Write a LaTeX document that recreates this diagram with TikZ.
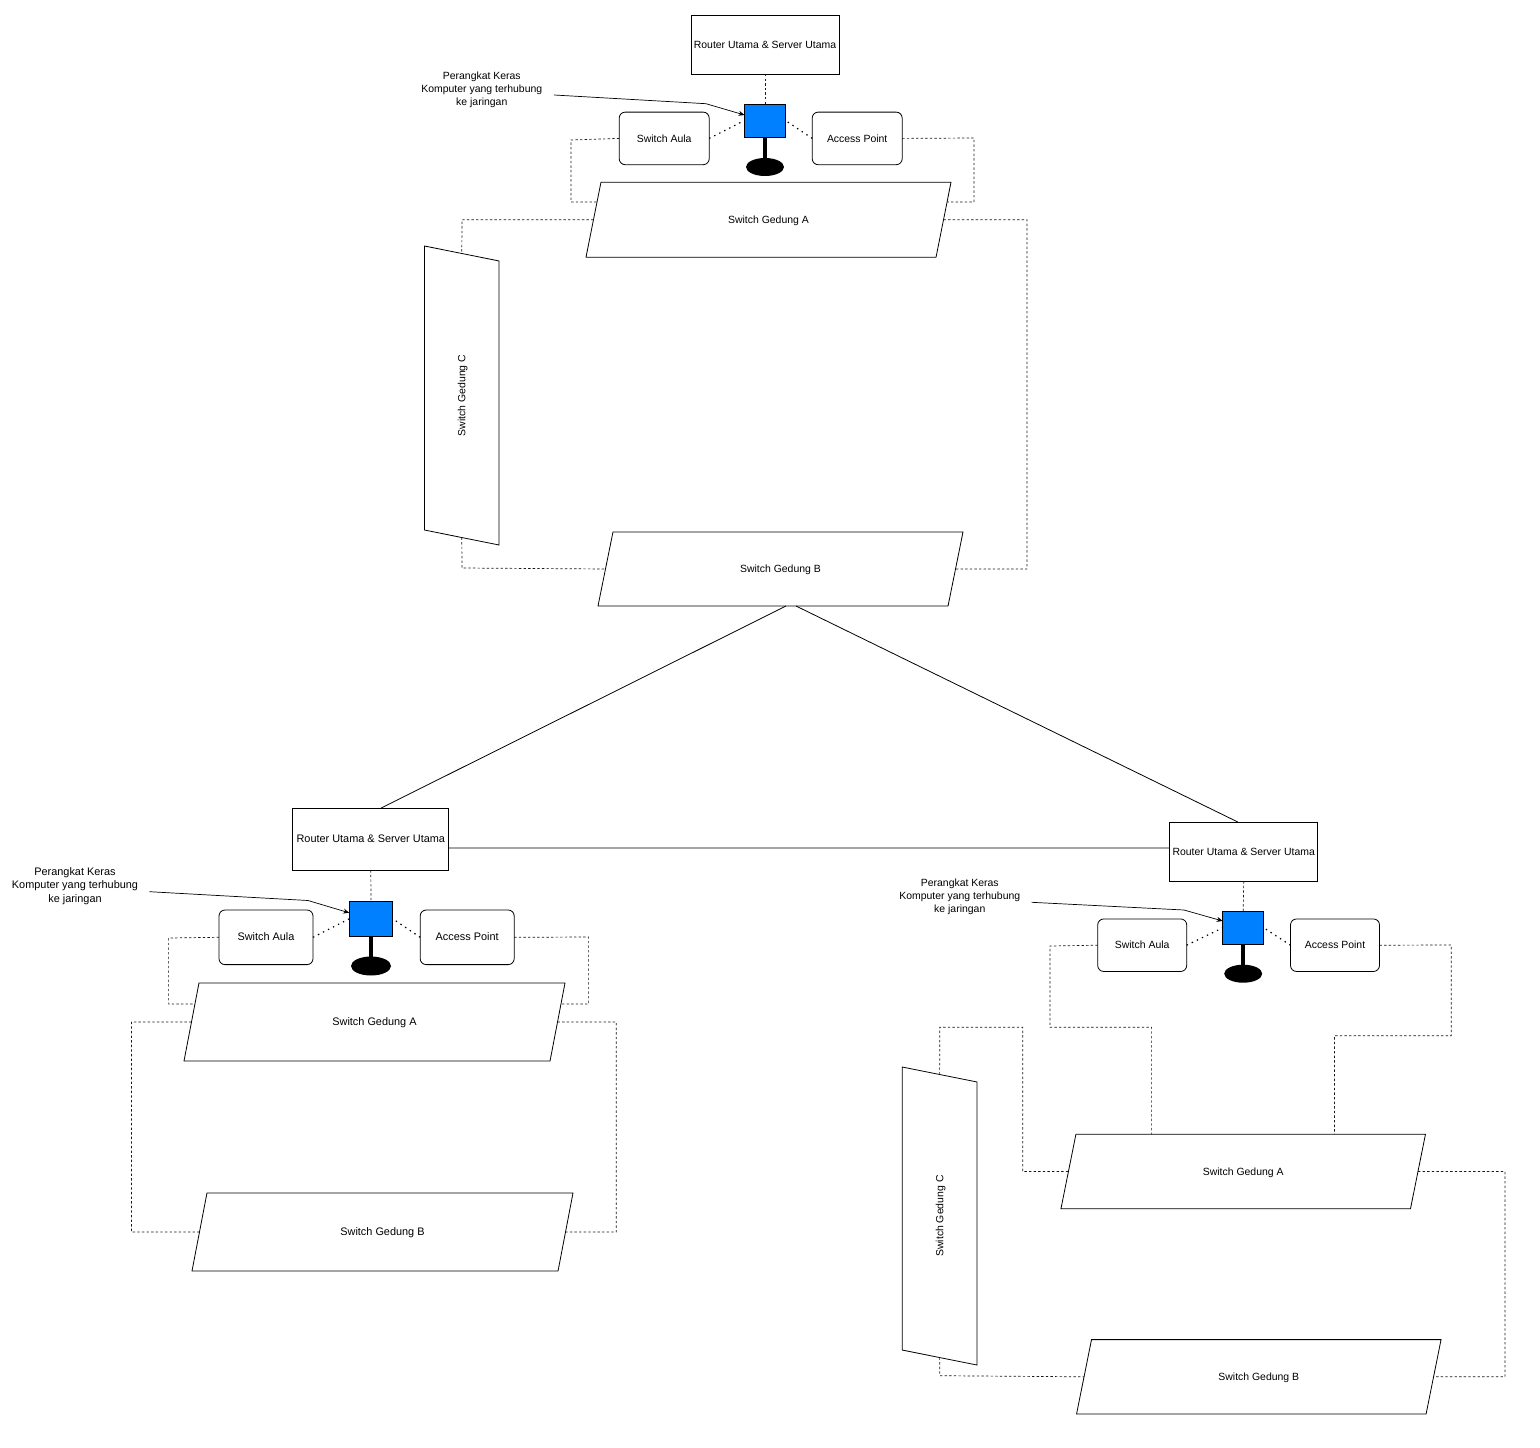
\documentclass[tikz,border=0pt]{standalone}
\usepackage{fontspec}
\setmainfont{Liberation Sans}
\usetikzlibrary{shapes.geometric,arrows.meta}
\tikzset{
	teks/.style={font=\fontsize{10.45}{13}\selectfont,inner sep=0pt,outer sep=0pt},
	teksbesar/.style={font=\fontsize{10.9}{13.4}\selectfont},
	kotak/.style={teks,draw,line width=0.8pt,align=center,text height=7.3pt,text depth=0pt},
	router/.style={kotak,rectangle},
	switchbox/.style={kotak,rectangle,rounded corners=6pt},
	gedung/.style={kotak,trapezium,trapezium left angle=26,trapezium right angle=154,trapezium stretches body},
	layar/.style={draw,line width=0.8pt,fill=layarbiru,inner sep=0pt,outer sep=0pt},
	kaki/.style={ellipse,fill=black,inner sep=0pt,outer sep=0pt},
	tiang/.style={line width=4.4pt},
	kabel/.style={line width=0.7pt,black!90,dash pattern=on 2.4pt off 2.2pt},
	titik/.style={line width=1.2pt,dash pattern=on 1.4pt off 4.2pt},
	garis/.style={line width=0.8pt},
	panah/.style={line width=0.7pt,-{Stealth[length=6pt,width=5pt]}},
}
\definecolor{layarbiru}{HTML}{007FFF}
\begin{document}
\begin{tikzpicture}[x=1pt,y=-1pt]
	\useasboundingbox (0,0) rectangle (1540,1448);
	%jaringan1
	\node[router,minimum width=148pt,minimum height=59pt] (router1) at (765,44.5) {Router Utama \& Server Utama};
	\node[layar,minimum width=41pt,minimum height=33pt] (layar1) at (765,120.5) {};
	\node[kaki,minimum width=38pt,minimum height=18pt] (kaki1) at (765,167) {};
	\node[switchbox,minimum width=90pt,minimum height=52.6pt] (aula1) at (664.2,138.4) {Switch Aula};
	\node[switchbox,minimum width=90pt,minimum height=52.6pt] (ap1) at (857.2,138.4) {Access Point};
	\node[gedung,minimum width=365pt,minimum height=75pt] (gedungA1) at (768.5,219.7) {Switch Gedung A};
	\node[gedung,minimum width=365pt,minimum height=74pt] (gedungB1) at (780.5,569) {Switch Gedung B};
	\node[gedung,rotate=90,minimum width=299pt,minimum height=74.5pt] (gedungC1) at (461.8,395.5) {Switch Gedung C};
	\node[teks,align=center] (ket1) at (481.8,89.5) {Perangkat Keras\\Komputer yang terhubung\\ke jaringan};
	\coordinate (panah1) at (554,95);
	\draw[kabel] (router1.south) -- (layar1.north);
	\draw[tiang] (layar1.south) -- (kaki1.north);
	\draw[titik] (aula1.east) -- (layar1.west);
	\draw[titik] (ap1.west) -- (layar1.east);
	\draw[panah] (panah1) -- (706,103.7) -- ([yshift=5.5pt]layar1.west);
	\draw[kabel] (aula1.west) -- (571,140) -- (571,202) -- ([xshift=3.5pt,yshift=17.7pt]gedungA1.west);
	\draw[kabel] (ap1.east) -- (974,138) -- (974,202) -- ([xshift=3.5pt,yshift=17.7pt]gedungA1.east);
	\draw[kabel] (gedungA1.west) -- (462,219.7) -- (gedungC1.east);
	\draw[kabel] (gedungA1.east) -- (1027,219.7) -- (1027,569) -- (gedungB1.east);
	\draw[kabel] (gedungC1.west) -- (462,568) -- (gedungB1.west);
	%jaringan2
	\node[router,teksbesar,minimum width=156pt,minimum height=62pt] (router2) at (370.8,839.2) {Router Utama \& Server Utama};
	\node[layar,minimum width=43.5pt,minimum height=35pt] (layar2) at (371,918.8) {};
	\node[kaki,minimum width=40pt,minimum height=19pt] (kaki2) at (371,966) {};
	\node[switchbox,teksbesar,minimum width=94pt,minimum height=54.6pt] (aula2) at (266,937.3) {Switch Aula};
	\node[switchbox,teksbesar,minimum width=94pt,minimum height=54.6pt] (ap2) at (467.2,937.3) {Access Point};
	\node[gedung,teksbesar,minimum width=381pt,minimum height=78pt] (gedungA2) at (374.5,1022) {Switch Gedung A};
	\node[gedung,teksbesar,minimum width=381pt,minimum height=78pt] (gedungB2) at (382.5,1232) {Switch Gedung B};
	\node[teks,teksbesar,align=center] (ket2) at (75,886) {Perangkat Keras\\Komputer yang terhubung\\ke jaringan};
	\coordinate (panah2) at (149.5,891.7);
	\draw[kabel] (router2.south) -- (layar2.north);
	\draw[tiang] (layar2.south) -- (kaki2.north);
	\draw[titik] (aula2.east) -- (layar2.west);
	\draw[titik] (ap2.west) -- (layar2.east);
	\draw[panah] (panah2) -- (308,900.5) -- ([yshift=6pt]layar2.west);
	\draw[kabel] (aula2.west) -- (168.6,938) -- (168.6,1004) -- ([xshift=3.5pt,yshift=18pt]gedungA2.west);
	\draw[kabel] (ap2.east) -- (588.6,937) -- (588.6,1004) -- ([xshift=3.5pt,yshift=18pt]gedungA2.east);
	\draw[kabel] (gedungA2.west) -- (131.4,1022) -- (131.4,1232) -- (gedungB2.west);
	\draw[kabel] (gedungA2.east) -- (616.3,1022) -- (616.3,1232) -- (gedungB2.east);
	%jaringan3
	\node[router,minimum width=148pt,minimum height=59pt] (router3) at (1243.7,851.6) {Router Utama \& Server Utama};
	\node[layar,minimum width=41pt,minimum height=33pt] (layar3) at (1243.2,927.8) {};
	\node[kaki,minimum width=38pt,minimum height=18pt] (kaki3) at (1243.2,973.7) {};
	\node[switchbox,minimum width=89pt,minimum height=52.5pt] (aula3) at (1142.2,945.2) {Switch Aula};
	\node[switchbox,minimum width=89pt,minimum height=52.5pt] (ap3) at (1335,945.2) {Access Point};
	\node[gedung,minimum width=364.5pt,minimum height=74.4pt] (gedungA3) at (1243.2,1171.5) {Switch Gedung A};
	\node[gedung,minimum width=364.5pt,minimum height=74.4pt] (gedungB3) at (1258.8,1376.8) {Switch Gedung B};
	\node[gedung,rotate=90,minimum width=298pt,minimum height=74.8pt] (gedungC3) at (939.6,1216) {Switch Gedung C};
	\node[teks,align=center] (ket3) at (959.8,896.3) {Perangkat Keras\\Komputer yang terhubung\\ke jaringan};
	\coordinate (panah3) at (1031.6,902.3);
	\draw[kabel] (router3.south) -- (layar3.north);
	\draw[tiang] (layar3.south) -- (kaki3.north);
	\draw[titik] (aula3.east) -- (layar3.west);
	\draw[titik] (ap3.west) -- (layar3.east);
	\draw[panah] (panah3) -- (1184,910) -- ([yshift=6.8pt]layar3.west);
	\draw[kabel] (aula3.west) -- (1050,946) -- (1050,1027.3) -- (1151.6,1027.3) -- ([xshift=-91.6pt]gedungA3.north);
	\draw[kabel] (ap3.east) -- (1451.2,945) -- (1451.2,1035.7) -- (1334.5,1035.7) -- ([xshift=91.3pt]gedungA3.north);
	\draw[kabel] (gedungC3.east) -- (939.8,1027.3) -- (1022.7,1027.3) -- (1022.7,1171.5) -- (gedungA3.west);
	\draw[kabel] (gedungC3.west) -- (939.8,1375.7) -- (gedungB3.west);
	\draw[kabel] (gedungA3.east) -- (1505,1171.5) -- (1505,1376.8) -- (gedungB3.east);
	%antar jaringan
	\draw[garis] ([xshift=5.5pt]gedungB1.south) -- ([xshift=10pt]router2.north);
	\draw[garis] ([xshift=15.5pt]gedungB1.south) -- ([xshift=-5.7pt]router3.north);
	\draw[garis] ([yshift=-8.7pt]router2.east) -- ([yshift=3.6pt]router3.west);
\end{tikzpicture}
\end{document}
